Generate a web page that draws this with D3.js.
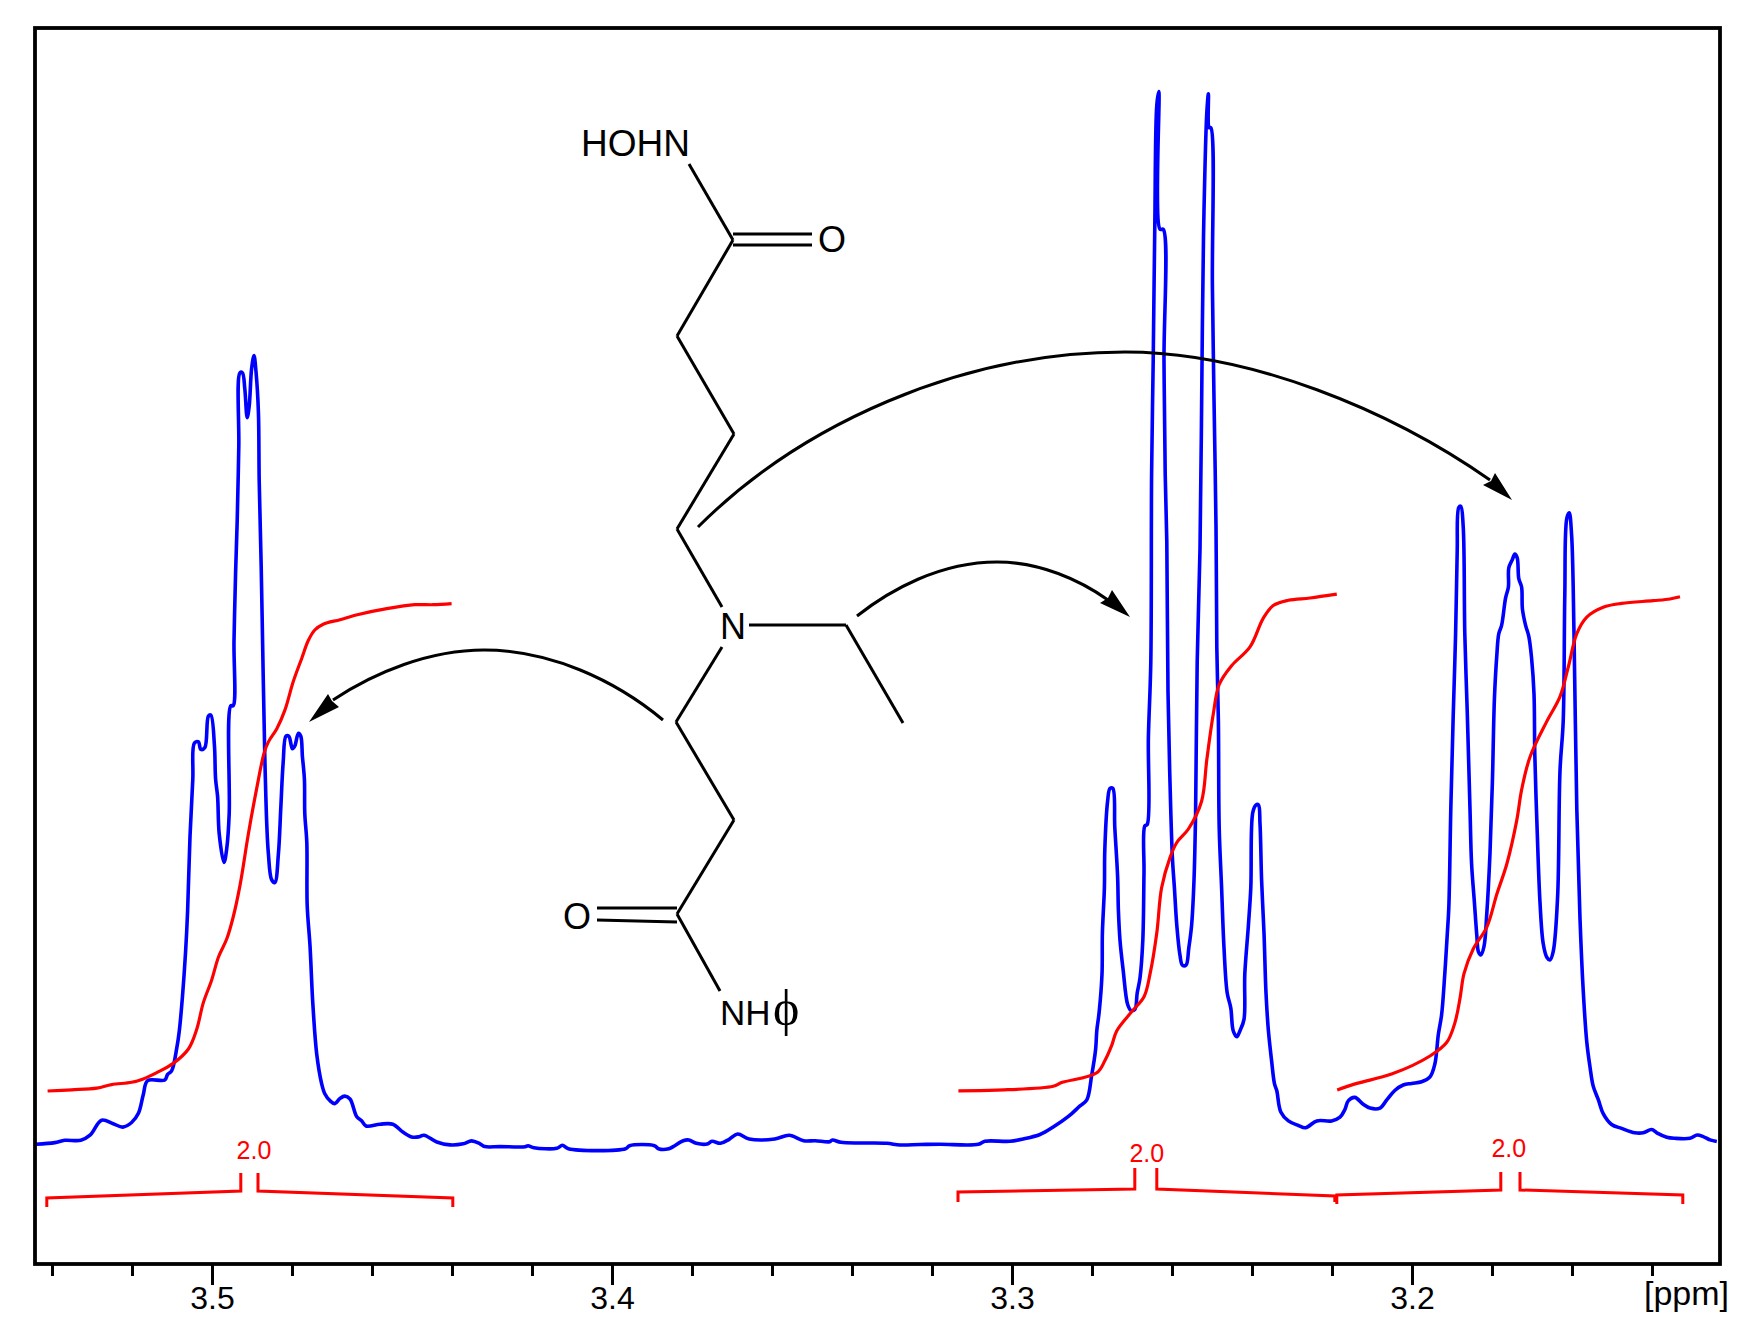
<!DOCTYPE html>
<html><head><meta charset="utf-8">
<script src="https://cdn.jsdelivr.net/npm/d3@7"></script>
<style>html,body{margin:0;padding:0;background:#fff}svg{display:block}</style>
</head><body><svg id="c" width="1764" height="1344"></svg>
<script>
// ppm, intensity
const spectrum = [[3.5440,11.97],[3.5393,12.14],[3.5368,12.37],[3.5328,12.37],[3.5305,12.88],[3.5276,14.38],[3.5247,14.03],[3.5223,13.69],[3.5201,14.15],[3.5184,15.07],[3.5172,16.90],[3.5161,18.34],[3.5118,18.4],[3.5111,18.97],[3.5101,19.31],[3.5088,21.61],[3.5082,23.22],[3.5074,26.66],[3.5066,31.25],[3.5061,35.27],[3.5055,42.74],[3.5048,48.48],[3.5044,52.09],[3.5034,52.21],[3.5028,51.46],[3.5018,51.63],[3.5009,54.79],[3.5003,54.9],[3.4994,51.92],[3.4991,48.48],[3.4986,46.75],[3.4982,43.02],[3.4970,40.15],[3.4963,41.59],[3.4957,45.03],[3.4953,55.82],[3.4947,55.82],[3.4945,62.25],[3.4941,69.14],[3.4937,74.31],[3.4933,81.77],[3.4930,89.12],[3.4924,89.12],[3.4918,87.51],[3.4912,84.64],[3.4907,85.79],[3.4901,89.52],[3.4895,90.84],[3.4890,89.23],[3.4884,85.22],[3.4882,78.33],[3.4877,69.72],[3.4872,58.81],[3.4868,50.77],[3.4863,43.88],[3.4859,41.01],[3.4851,38.43],[3.4843,38.14],[3.4834,41.01],[3.4828,45.61],[3.4822,50.2],[3.4815,52.78],[3.4808,52.78],[3.4799,51.52],[3.4793,51.8],[3.4784,53.07],[3.4778,52.78],[3.4774,50.77],[3.4769,48.48],[3.4768,45.03],[3.4763,42.16],[3.4762,35.85],[3.4755,31.83],[3.4748,26.09],[3.4738,20.92],[3.4726,18.05],[3.4718,17.02],[3.4705,16.33],[3.4693,16.04],[3.4680,16.56],[3.4668,16.79],[3.4655,16.5],[3.4638,14.72],[3.4626,14.32],[3.4615,13.8],[3.4580,13.98],[3.4548,13.98],[3.4522,13.17],[3.4501,12.71],[3.4484,12.71],[3.4470,12.88],[3.4438,12.2],[3.4405,11.91],[3.4372,12.02],[3.4351,12.31],[3.4330,12.02],[3.4318,11.74],[3.4280,11.74],[3.4217,11.73],[3.4210,11.83],[3.4195,11.63],[3.4138,11.57],[3.4124,11.87],[3.4109,11.53],[3.3966,11.53],[3.3956,11.83],[3.3894,11.83],[3.3884,11.53],[3.3858,11.53],[3.3822,12.33],[3.3808,12.4],[3.3789,12.07],[3.3762,12.0],[3.3750,12.27],[3.3729,12.07],[3.3707,12.47],[3.3686,13.0],[3.3657,12.5],[3.3593,12.5],[3.3557,12.87],[3.3521,12.33],[3.3492,12.33],[3.3456,12.23],[3.3449,12.4],[3.3428,12.17],[3.3377,12.1],[3.3313,12.07],[3.3280,11.9],[3.3230,11.95],[3.3180,11.97],[3.3084,11.97],[3.3068,12.27],[3.3005,12.27],[3.2972,12.5],[3.2930,12.95],[3.2897,13.7],[3.2859,14.76],[3.2830,15.81],[3.2813,16.41],[3.2801,18.82],[3.2791,21.45],[3.2788,23.33],[3.2782,25.22],[3.2775,28.98],[3.2774,33.12],[3.2769,37.63],[3.2768,41.39],[3.2761,46.28],[3.2755,47.56],[3.2748,47.56],[3.2743,43.65],[3.2736,38.76],[3.2734,35.37],[3.2730,32.36],[3.2722,29.35],[3.2711,25.97],[3.2703,25.37],[3.2693,25.44],[3.2687,27.1],[3.2680,28.6],[3.2673,32.36],[3.2670,39.14],[3.2668,43.8],[3.2662,43.95],[3.2659,52.68],[3.2653,60.2],[3.2651,79.02],[3.2647,90.3],[3.2643,103.85],[3.2638,115.89],[3.2633,117.24],[3.2630,103.47],[3.2622,103.47],[3.2620,90.3],[3.2617,79.02],[3.2613,72.24],[3.2610,57.2],[3.2605,48.17],[3.2599,40.64],[3.2594,37.63],[3.2588,33.87],[3.2580,30.86],[3.2574,29.88],[3.2565,29.88],[3.2558,31.61],[3.2551,33.87],[3.2545,38.38],[3.2541,45.16],[3.2537,60.2],[3.2530,71.49],[3.2524,94.06],[3.2520,105.35],[3.2513,115.13],[3.2509,117.01],[3.2507,113.63],[3.2503,113.63],[3.2499,97.83],[3.2495,86.54],[3.2490,73.75],[3.2488,61.71],[3.2484,54.19],[3.2482,43.65],[3.2476,37.63],[3.2470,31.61],[3.2462,27.1],[3.2453,25.59],[3.2447,23.33],[3.2438,22.73],[3.2430,23.33],[3.2420,24.46],[3.2418,28.98],[3.2409,33.87],[3.2403,37.63],[3.2398,45.16],[3.2390,45.91],[3.2384,45.91],[3.2380,44.03],[3.2376,38.38],[3.2370,33.12],[3.2365,27.1],[3.2359,23.33],[3.2351,20.32],[3.2344,18.07],[3.2338,17.32],[3.2328,15.21],[3.2309,14.31],[3.2284,13.85],[3.2266,13.63],[3.2238,14.31],[3.2201,14.31],[3.2180,14.68],[3.2168,15.43],[3.2159,16.34],[3.2143,16.66],[3.2122,15.97],[3.2105,15.59],[3.2080,15.59],[3.2063,16.41],[3.2043,17.35],[3.2022,17.9],[3.2001,18.06],[3.1976,18.22],[3.1955,18.72],[3.1943,19.98],[3.1934,23.0],[3.1926,24.92],[3.1918,29.03],[3.1912,32.87],[3.1908,35.61],[3.1903,45.49],[3.1897,54.81],[3.1891,63.04],[3.1887,71.27],[3.1883,75.66],[3.1878,75.77],[3.1872,73.74],[3.1868,63.04],[3.1862,55.36],[3.1855,45.49],[3.1851,40.0],[3.1844,36.16],[3.1838,32.87],[3.1834,31.23],[3.1828,30.9],[3.1820,31.77],[3.1813,35.07],[3.1805,41.1],[3.1799,48.23],[3.1794,56.46],[3.1788,60.85],[3.1783,63.04],[3.1776,63.86],[3.1766,66.61],[3.1759,67.7],[3.1758,69.62],[3.1749,70.45],[3.1743,70.99],[3.1737,70.61],[3.1733,68.53],[3.1726,67.7],[3.1724,65.51],[3.1716,63.86],[3.1708,62.77],[3.1701,60.57],[3.1695,57.01],[3.1693,50.97],[3.1687,43.29],[3.1680,36.16],[3.1672,32.05],[3.1663,30.68],[3.1655,30.4],[3.1647,31.23],[3.1636,36.71],[3.1630,49.33],[3.1622,54.26],[3.1618,66.88],[3.1613,74.56],[3.1607,75.11],[3.1601,72.91],[3.1595,63.04],[3.1588,45.49],[3.1580,34.52],[3.1572,27.39],[3.1563,22.17],[3.1555,19.71],[3.1547,17.79],[3.1534,16.41],[3.1522,15.04],[3.1501,13.95],[3.1476,13.56],[3.1443,13.12],[3.1422,13.12],[3.1401,13.45],[3.1388,13.12],[3.1363,12.68],[3.1343,12.57],[3.1305,12.57],[3.1287,12.9],[3.1272,12.74],[3.1255,12.41],[3.1238,12.25]];

const integralA = [[3.5411,17.3],[3.5351,17.42],[3.5288,17.59],[3.5251,17.94],[3.5201,18.17],[3.5172,18.51],[3.5138,19.14],[3.5097,20.06],[3.5059,21.5],[3.5038,23.5],[3.5022,26.09],[3.5001,28.38],[3.4984,30.68],[3.4963,32.52],[3.4947,34.7],[3.4930,37.86],[3.4909,43.02],[3.4888,47.61],[3.4870,51.06],[3.4859,52.21],[3.4838,53.53],[3.4818,55.36],[3.4797,58.23],[3.4776,60.53],[3.4759,62.37],[3.4743,63.4],[3.4722,63.98],[3.4680,64.43],[3.4634,64.95],[3.4563,65.53],[3.4493,65.93],[3.4447,65.93],[3.4401,66.04]];

const integralB = [[3.3134,17.32],[3.3038,17.39],[3.2897,17.77],[3.2876,18.14],[3.2788,19.12],[3.2768,20.32],[3.2751,21.83],[3.2738,23.33],[3.2701,25.22],[3.2670,26.72],[3.2655,28.98],[3.2638,33.12],[3.2626,37.63],[3.2605,40.64],[3.2588,42.15],[3.2559,43.5],[3.2526,46.28],[3.2513,50.42],[3.2497,54.94],[3.2482,57.95],[3.2451,59.83],[3.2405,61.71],[3.2372,64.57],[3.2347,65.85],[3.2309,66.37],[3.2255,66.6],[3.2188,66.98]];

const integralC = [[3.2187,17.4],[3.2138,18.06],[3.2051,18.99],[3.1955,20.8],[3.1913,22.17],[3.1893,24.09],[3.1880,26.56],[3.1870,29.03],[3.1847,31.5],[3.1813,33.69],[3.1788,36.98],[3.1763,40.0],[3.1738,44.39],[3.1726,47.41],[3.1705,50.7],[3.1663,54.26],[3.1630,56.73],[3.1609,59.75],[3.1588,63.04],[3.1563,64.69],[3.1522,65.67],[3.1476,66.06],[3.1397,66.33],[3.1355,66.5],[3.1330,66.72]];

const integralLabels = ["2.0","2.0","2.0"];
const labelPpm = [3.4895,3.2663,3.1758];
const labelHeight = [10.5,10.2,10.7];
// each bracket: left foot, left arm, left top, right top, right arm, right foot
const bracketA = [[3.5413,5.7],[3.5413,6.6],[3.4928,7.3],[3.4928,9.1],null,[3.4885,9.1],[3.4885,7.3],[3.4398,6.6],[3.4398,5.7]];
const bracketB = [[3.3135,6.2],[3.3135,7.2],[3.2693,7.5],[3.2693,9.6],null,[3.2638,9.6],[3.2638,7.5],[3.2193,6.8],[3.2193,6.2]];
const bracketC = [[3.2188,6.0],[3.2188,6.9],[3.1778,7.4],[3.1778,9.2],null,[3.1730,9.2],[3.1730,7.4],[3.1323,6.9],[3.1323,6.0]];

const majorTicks = [3.5,3.4,3.3,3.2];
const minorTicks = [3.54,3.52,3.48,3.46,3.44,3.42,3.38,3.36,3.34,3.32,3.28,3.26,3.24,3.22,3.18,3.16,3.14];
const unitLabel = "[ppm]";

// structure drawing (page geometry of the annotation, not chart data)
const bonds = [
 [[689,164],[733,240]],[[733,234],[812,234]],[[733,245],[812,245]],
 [[733,240],[677,336]],[[677,336],[734,434]],[[734,434],[677,529]],[[677,529],[722,607]],
 [[749,625],[846,625]],[[846,625],[903,723]],[[722,647],[676,722]],[[676,722],[734,820]],
 [[734,820],[677,914]],[[597,908],[677,908]],[[597,920],[677,922]],[[677,914],[720,991]]
];
const atoms = [
 {t:"HOHN",x:581,y:156,s:37},{t:"O",x:818,y:252,s:36},{t:"N",x:720,y:639,s:36},{t:"O",x:563,y:929,s:36}
];
// arrows: start, then cubic segments (control, control, end)
const arrowA = [[698,527],[800,425],[960,352],[1125,352],[1250,352],[1390,410],[1490,480]];
const arrowB = [[857,616],[890,590],[940,562],[997,562],[1040,562],[1080,580],[1108,600]];
const arrowC = [[663,720],[615,680],[550,650],[484,650],[430,650],[375,672],[333,700]];
const headA = [[1512,500],[1483,485],[1491,481],[1495,473]];
const headB = [[1130,617],[1100,603],[1108,598],[1112,590]];
const headC = [[309,722],[328,694],[332,701],[339,707]];

const W=1764,H=1344, L=35,R=1720,T=28,B=1264;
const x = d3.scaleLinear().domain([3.54425,3.123]).range([L,R]);
const y = d3.scaleLinear().domain([0,123.6]).range([B,T]);
const svg = d3.select("#c");
const sans = "'Liberation Sans', Arial, sans-serif";
const line = d3.line().x(d=>x(d[0])).y(d=>y(d[1])).curve(d3.curveCatmullRom.alpha(0.5));
const lineGap = d3.line().defined(d=>d).x(d=>x(d[0])).y(d=>y(d[1]));
const pagePath = d3.line();
function bezier(a){
  const p=d3.path(); p.moveTo(a[0][0],a[0][1]);
  for(let i=1;i+2<a.length;i+=3) p.bezierCurveTo(a[i][0],a[i][1],a[i+1][0],a[i+1][1],a[i+2][0],a[i+2][1]);
  return p.toString();
}

// molecule
const mol = svg.append("g");
mol.selectAll("path.b").data(bonds).join("path").attr("class","b").attr("d",pagePath)
  .attr("fill","none").attr("stroke","#000").attr("stroke-width",3);
mol.selectAll("text.a").data(atoms).join("text").attr("class","a")
  .attr("x",d=>d.x).attr("y",d=>d.y).text(d=>d.t)
  .attr("font-family",sans).attr("font-size",d=>d.s).attr("fill","#000");
mol.append("text").attr("x",720).attr("y",1025).attr("font-family",sans).attr("font-size",35).attr("fill","#000").text("NH");
mol.append("text").attr("x",773).attr("y",1025).attr("font-family","'Liberation Serif'").attr("font-size",50).attr("fill","#000").text("ϕ");

// spectrum + integrals
svg.append("path").attr("d",line(spectrum)).attr("fill","none").attr("stroke","#0000ff").attr("stroke-width",3.6).attr("stroke-linejoin","round");
[integralA,integralB,integralC].forEach(s=>svg.append("path").attr("d",line(s)).attr("fill","none").attr("stroke","#ff0000").attr("stroke-width",3.2).attr("stroke-linejoin","round"));
[bracketA,bracketB,bracketC].forEach(s=>svg.append("path").attr("d",lineGap(s)).attr("fill","none").attr("stroke","#ff0000").attr("stroke-width",3));
svg.selectAll("text.il").data(integralLabels).join("text").attr("class","il")
  .attr("x",(d,i)=>x(labelPpm[i])).attr("y",(d,i)=>y(labelHeight[i])).attr("text-anchor","middle")
  .attr("font-family",sans).attr("font-size",25).attr("fill","#ff0000").text(d=>d);

// arrows
[arrowA,arrowB,arrowC].forEach(a=>svg.append("path").attr("d",bezier(a)).attr("fill","none").attr("stroke","#000").attr("stroke-width",3));
[headA,headB,headC].forEach(h=>svg.append("path").attr("d",pagePath(h)+"Z").attr("fill","#000"));

// frame + axis
svg.append("rect").attr("x",L).attr("y",T).attr("width",R-L).attr("height",B-T).attr("fill","none").attr("stroke","#000").attr("stroke-width",3.8);
const gMin = svg.append("g").attr("transform",`translate(0,${B})`).call(d3.axisBottom(x).tickValues(minorTicks).tickSize(12).tickFormat(""));
const gMaj = svg.append("g").attr("transform",`translate(0,${B})`).call(d3.axisBottom(x).tickValues(majorTicks).tickSize(21).tickPadding(6).tickFormat(d3.format(".1f")));
[gMin,gMaj].forEach(g=>{g.select(".domain").remove();g.selectAll(".tick line").attr("stroke","#000").attr("stroke-width",3);});
gMaj.selectAll("text").attr("font-family",sans).attr("font-size",32).attr("fill","#000").attr("dy",null).attr("y",45);
svg.append("text").attr("x",1644).attr("y",1305).attr("font-family",sans).attr("font-size",34).attr("fill","#000").text(unitLabel);
</script></body></html>
